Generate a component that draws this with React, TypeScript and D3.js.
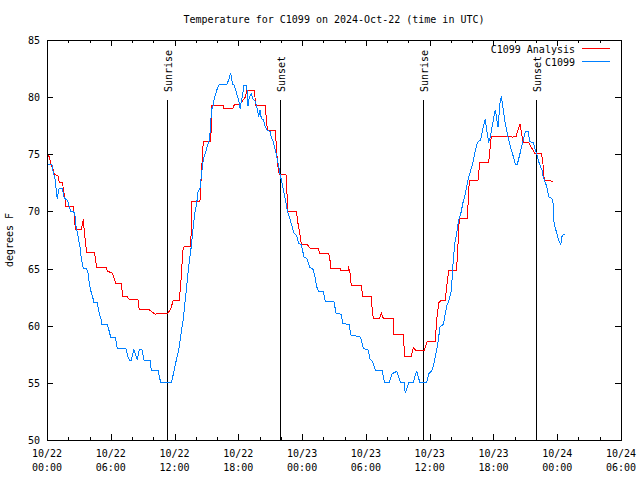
import React from "react";
import * as d3 from "d3";

// Hours after 2024-10-22 00:00 UTC, temperature (°F)
const analysisSeries: [number, number][] = [
  [0, 74.9], [0.16, 74.9], [0.4, 74.1], [0.59, 73.6], [0.66, 73.3], [1.03, 73.1], [1.16, 72.5], [1.48, 72.5],
  [1.53, 71.9], [1.72, 71.1], [1.79, 70.4], [2.47, 70.4], [2.54, 70.0], [2.61, 69.25], [2.66, 68.4], [3.23, 68.4],
  [3.41, 69.3], [3.55, 67.9], [3.67, 66.9], [3.73, 66.4], [4.49, 66.4], [4.54, 65.9], [4.68, 65.1], [5.55, 65.1],
  [5.67, 64.8], [6.11, 64.6], [6.24, 64.4], [6.37, 64.0], [6.49, 63.7], [6.99, 63.7], [7.12, 62.6], [7.5, 62.6],
  [7.74, 62.3], [8.56, 62.3], [8.68, 61.4], [9.62, 61.4], [10.19, 61.0], [10.51, 61.1], [11.38, 61.1], [11.64, 61.5],
  [11.88, 62.2], [12.45, 62.2], [12.63, 64.3], [12.77, 66.5], [12.89, 66.9], [13.52, 66.9], [13.64, 70.9], [14.39, 70.9],
  [14.52, 73.2], [14.7, 76.1], [15.4, 76.1], [15.52, 79.3], [16.59, 79.3], [16.65, 79.0], [17.47, 79.0], [17.66, 79.4],
  [18.16, 79.4], [18.65, 80.0], [18.79, 80.6], [19.54, 80.6], [19.6, 79.3], [20.54, 79.3], [20.67, 77.6], [20.79, 77.1],
  [21.48, 77.1], [21.61, 75.2], [21.73, 73.9], [21.85, 73.25], [22.48, 73.25], [22.67, 70.0], [23.49, 70.0], [23.55, 69.25],
  [23.73, 68.4], [23.92, 67.2], [23.99, 67.1], [24.49, 67.1], [24.74, 66.8], [25.56, 66.8], [25.62, 66.3], [26.5, 66.3],
  [26.62, 65.75], [26.69, 65.05], [27.56, 65.05], [27.63, 64.8], [28.32, 64.8], [28.38, 65.05], [28.5, 64.7], [28.63, 63.5],
  [29.57, 63.5], [29.7, 62.6], [30.51, 62.6], [30.57, 61.7], [30.7, 60.6], [31.26, 60.6], [31.45, 61.1], [31.64, 60.65],
  [32.58, 60.65], [32.64, 59.2], [33.52, 59.2], [33.65, 57.35], [34.27, 57.35], [34.46, 58.1], [34.71, 57.8], [35.47, 57.8],
  [35.78, 58.65], [36.53, 58.65], [36.66, 60.5], [36.85, 62.0], [37.04, 62.2], [37.47, 62.2], [37.6, 63.4], [37.79, 64.8],
  [38.48, 64.8], [38.6, 65.75], [38.73, 68.4], [38.79, 69.4], [39.54, 69.4], [39.67, 71.6], [39.73, 72.75], [40.55, 72.75],
  [40.67, 73.9], [40.73, 74.3], [41.55, 74.3], [41.68, 75.5], [41.8, 76.55], [43.49, 76.6], [43.75, 76.5], [44.12, 76.55],
  [44.37, 77.3], [44.5, 77.6], [44.81, 76.0], [45.32, 76.0], [45.44, 75.8], [45.88, 75.1], [46.5, 75.1], [46.63, 74.5],
  [46.76, 73.0], [46.88, 72.7], [47.57, 72.65],
];

const observedSeries: [number, number][] = [
  [0, 74.1], [0.47, 74.1], [0.54, 73.6], [0.78, 72.75], [0.91, 71.4], [0.97, 71.1], [1.1, 71.9], [1.16, 72.0],
  [1.48, 72.0], [1.53, 71.4], [1.72, 71.1], [1.91, 71.0], [2.23, 70.0], [2.47, 70.0], [2.61, 69.8], [2.73, 68.7],
  [2.85, 68.2], [2.98, 67.5], [3.1, 66.9], [3.23, 65.9], [3.41, 65.0], [3.73, 65.0], [3.86, 64.6], [3.98, 63.7],
  [4.11, 63.1], [4.3, 62.5], [4.42, 62.0], [4.73, 62.0], [4.92, 61.1], [5.11, 60.5], [5.17, 60.1], [5.67, 60.1],
  [5.86, 59.5], [5.99, 59.0], [6.43, 59.0], [6.61, 58.0], [7.43, 58.0], [7.62, 57.3], [7.74, 57.0], [7.93, 57.0],
  [8.18, 57.9], [8.5, 57.0], [8.68, 57.9], [8.94, 57.9], [9.13, 57.0], [9.69, 57.0], [9.81, 56.1], [10.44, 56.1],
  [10.7, 55.0], [11.69, 55.0], [11.82, 55.5], [12.01, 56.3], [12.2, 57.15], [12.39, 57.9], [12.45, 58.3], [12.82, 60.6],
  [13.14, 63.4], [13.33, 65.2], [13.57, 66.9], [13.76, 68.7], [13.9, 69.8], [14.08, 70.7], [14.21, 71.7], [14.39, 72.0],
  [14.58, 73.6], [14.7, 74.5], [14.89, 75.1], [15.08, 75.7], [15.27, 76.25], [15.4, 77.4], [15.46, 78.9], [15.59, 79.1],
  [15.71, 79.75], [15.96, 80.6], [16.21, 81.1], [16.91, 81.1], [17.09, 81.5], [17.28, 82.1], [17.47, 81.1], [17.59, 81.1],
  [18.03, 79.75], [18.16, 79.0], [18.28, 79.6], [18.41, 80.3], [18.53, 81.0], [18.79, 81.0], [18.91, 79.2], [19.03, 80.0],
  [19.22, 80.3], [19.35, 79.9], [19.6, 79.6], [19.78, 79.0], [19.91, 78.3], [20.04, 78.9], [20.16, 78.15], [20.35, 78.0],
  [20.54, 77.4], [20.72, 77.1], [20.98, 77.0], [21.1, 76.5], [21.29, 76.1], [21.54, 75.1], [21.67, 74.5], [21.8, 73.9],
  [21.92, 73.3], [22.17, 72.2], [22.36, 71.3], [22.61, 70.1], [23.05, 68.7], [23.24, 68.1], [23.49, 67.9], [23.68, 67.2],
  [23.92, 67.1], [24.18, 66.0], [24.43, 65.9], [24.74, 65.1], [25.0, 65.0], [25.18, 64.4], [25.37, 63.4], [25.56, 63.0],
  [25.99, 63.0], [26.18, 62.1], [27.0, 62.1], [27.19, 61.1], [27.69, 61.0], [27.82, 60.2], [28.44, 60.1], [28.57, 59.2],
  [29.51, 59.0], [29.76, 58.0], [30.2, 57.9], [30.39, 57.1], [30.64, 56.85], [30.89, 56.1], [31.52, 56.1], [31.77, 55.0],
  [32.2, 55.0], [32.46, 55.8], [32.9, 56.0], [33.28, 55.0], [33.59, 55.0], [33.71, 54.1], [33.84, 54.5], [34.03, 55.0],
  [34.46, 55.0], [34.65, 55.7], [34.78, 56.0], [35.09, 55.0], [35.72, 55.0], [35.91, 55.8], [36.22, 56.1], [36.41, 56.7],
  [36.6, 57.6], [36.78, 58.5], [36.97, 59.9], [37.28, 60.1], [37.6, 61.7], [37.85, 62.3], [38.04, 63.1], [38.22, 65.75],
  [38.35, 67.1], [38.54, 68.1], [38.73, 69.25], [38.98, 70.0], [39.11, 70.7], [39.3, 71.3], [39.48, 72.2], [39.67, 73.0],
  [39.86, 73.6], [40.05, 74.2], [40.24, 75.1], [40.42, 75.8], [40.55, 76.1], [40.8, 76.25], [41.04, 77.4], [41.23, 78.1],
  [41.37, 77.1], [41.55, 76.1], [41.68, 76.4], [41.93, 77.7], [42.17, 78.9], [42.43, 77.4], [42.62, 79.5], [42.74, 80.1],
  [42.93, 78.9], [43.06, 78.0], [43.25, 77.1], [43.43, 76.25], [43.62, 75.6], [43.87, 74.8], [44.06, 74.1], [44.24, 74.1],
  [44.43, 74.8], [44.69, 75.8], [44.87, 76.5], [45.0, 77.0], [45.25, 77.0], [45.44, 76.1], [45.75, 76.0], [45.94, 75.4],
  [46.13, 74.8], [46.31, 74.2], [46.57, 73.6], [46.69, 73.0], [47.01, 72.2], [47.2, 71.3], [47.51, 71.1], [47.63, 70.6],
  [47.7, 69.0], [47.95, 68.1], [48.14, 67.5], [48.33, 67.1], [48.45, 67.8], [48.57, 68.0], [48.76, 68.0],
];

const sunEventHours = [11.32, 21.92, 35.38, 46.0];
const sunEventLabels = ["Sunrise", "Sunset", "Sunrise", "Sunset"];

const yTicks = [50, 55, 60, 65, 70, 75, 80, 85];
const xMajorTickHours = [0, 6, 12, 18, 24, 30, 36, 42, 48, 54];
const xMinorTickHours = d3.range(0, 55, 2).filter((h) => h % 6 !== 0);

const seriesNames = ["C1099 Analysis", "C1099"];
const seriesColors = ["#ff0000", "#0080ff"];

const TITLE = "Temperature for C1099 on 2024-Oct-22 (time in UTC)";
const Y_LABEL = "degrees F";

const T0 = Date.UTC(2024, 9, 22, 0, 0);
const HOUR = 3600 * 1000;
const toDate = (h: number) => new Date(T0 + h * HOUR);

const FONT = "'DejaVu Sans Mono', 'Liberation Mono', monospace";

export default function App() {
  const left = 47, right = 621, top = 40, bottom = 440;
  const x = d3.scaleUtc().domain([toDate(0), toDate(54)]).range([left, right]);
  const y = d3.scaleLinear().domain([50, 85]).range([bottom, top]);
  const fmtDate = d3.utcFormat("%m/%d");
  const fmtTime = d3.utcFormat("%H:%M");

  const line = d3
    .line<[number, number]>()
    .x((d) => x(toDate(d[0])))
    .y((d) => y(d[1]));

  const px = (v: number) => Math.round(v) + 0.5;

  return (
    <svg
      width={640}
      height={480}
      style={{ position: "absolute", left: 0, top: 0, background: "#fff" }}
      fontFamily={FONT}
      fontSize={10}
    >
      <rect x={0} y={0} width={640} height={480} fill="#fff" />
      {/* title */}
      <text x={(left + right) / 2} y={23} textAnchor="middle" fill="#000">
        {TITLE}
      </text>
      {/* y label */}
      <text transform={`translate(13,${(top + bottom) / 2}) rotate(-90)`} textAnchor="middle" fill="#000">
        {Y_LABEL}
      </text>

      {/* y ticks */}
      {yTicks.map((t) => (
        <g key={"y" + t}>
          <line x1={left} x2={left + 6} y1={px(y(t))} y2={px(y(t))} stroke="#000" shapeRendering="crispEdges" />
          <line x1={right - 6} x2={right} y1={px(y(t))} y2={px(y(t))} stroke="#000" shapeRendering="crispEdges" />
          <text x={40} y={y(t) + 4} textAnchor="end" fill="#000">
            {t}
          </text>
        </g>
      ))}

      {/* x ticks */}
      {xMajorTickHours.map((h) => {
        const xx = px(x(toDate(h)));
        return (
          <g key={"xm" + h}>
            <line x1={xx} x2={xx} y1={bottom} y2={bottom - 6} stroke="#000" shapeRendering="crispEdges" />
            <line x1={xx} x2={xx} y1={top} y2={top + 6} stroke="#000" shapeRendering="crispEdges" />
            <text x={x(toDate(h))} y={457} textAnchor="middle" fill="#000">
              {fmtDate(toDate(h))}
            </text>
            <text x={x(toDate(h))} y={471} textAnchor="middle" fill="#000">
              {fmtTime(toDate(h))}
            </text>
          </g>
        );
      })}
      {xMinorTickHours.map((h) => {
        const xx = px(x(toDate(h)));
        return (
          <g key={"xn" + h}>
            <line x1={xx} x2={xx} y1={bottom} y2={bottom - 3} stroke="#000" shapeRendering="crispEdges" />
            <line x1={xx} x2={xx} y1={top} y2={top + 3} stroke="#000" shapeRendering="crispEdges" />
          </g>
        );
      })}

      {/* sunrise / sunset */}
      {sunEventHours.map((h, i) => {
        const xx = px(x(toDate(h)));
        return (
          <g key={"sun" + i}>
            <line x1={xx} x2={xx} y1={100} y2={bottom} stroke="#000" shapeRendering="crispEdges" />
            <text transform={`translate(${xx + 4},92) rotate(-90)`} textAnchor="start" fill="#000">
              {sunEventLabels[i]}
            </text>
          </g>
        );
      })}

      {/* series */}
      <path d={line(analysisSeries) || ""} fill="none" stroke={seriesColors[0]} strokeWidth={1} shapeRendering="crispEdges" />
      <path d={line(observedSeries) || ""} fill="none" stroke={seriesColors[1]} strokeWidth={1} shapeRendering="crispEdges" />

      {/* legend */}
      {seriesNames.map((n, i) => (
        <g key={"lg" + i}>
          <text x={575} y={53 + i * 13} textAnchor="end" fill="#000">
            {n}
          </text>
          <line x1={582} x2={610} y1={48.5 + i * 13} y2={48.5 + i * 13} stroke={seriesColors[i]} shapeRendering="crispEdges" />
        </g>
      ))}

      {/* frame */}
      <rect x={left + 0.5} y={top + 0.5} width={right - left} height={bottom - top} fill="none" stroke="#000" shapeRendering="crispEdges" />
    </svg>
  );
}
